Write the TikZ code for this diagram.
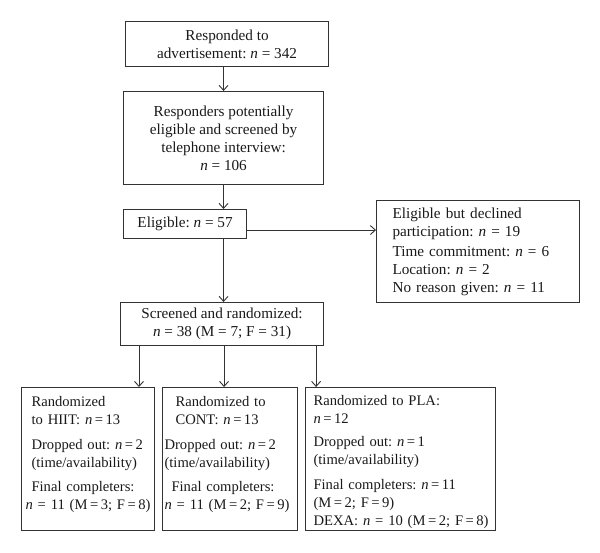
\documentclass[tikz,border=0pt]{standalone}
\usepackage{fontspec}
\setmainfont{Liberation Serif}
\usetikzlibrary{arrows.meta}

\newcommand{\nval}{\textit{n}}
\newcommand{\teq}{\hspace{.17em}=\hspace{.17em}}

\tikzset{
  box/.style={draw=black!80, line width=1.1pt, text=black!90, inner sep=2pt,
    font=\fontsize{15.2}{18}\selectfont\frenchspacing, anchor=north west},
  groupbox/.style={box, align=left, minimum height=143pt, inner ysep=0pt,
    font=\fontsize{14.6}{18}\selectfont\frenchspacing},
  flow/.style={draw=black!80, line width=0.9pt, -{Straight Barb[length=5pt,width=9pt]}}
}

\begin{document}
\begin{tikzpicture}[x=1pt,y=-1pt]
		\useasboundingbox (0,0) rectangle (600,552);

		\node[box, align=center, minimum width=203pt, minimum height=45pt] (respond) at (125,21)
			{Responded to\\advertisement: \nval{} = 342};
		\node[box, align=center, minimum width=200pt, minimum height=93pt] (screening) at (123,91)
			{Responders potentially\\eligible and screened by\\telephone interview:\\\nval{} = 106};
		\node[box, align=center, minimum width=123pt, minimum height=29pt] (eligible) at (123,209)
			{Eligible: \nval{} = 57};
		\node[box, align=left, minimum height=102pt, inner xsep=16pt, text width=171pt] (declined) at (376,200)
			{Eligible but declined\\participation: \nval{} = 19\\[2pt]Time commitment: \nval{} = 6\\Location: \nval{} = 2\\No reason given: \nval{} = 11};
		\node[box, align=center, minimum width=203pt, minimum height=43pt] (randomized) at (120,302)
			{Screened and randomized:\\\nval{} = 38 (M = 7; F = 31)};

		\node[groupbox, inner xsep=10pt, text width=113pt] (hiit) at (21,387)
			{Randomized\\to HIIT: \nval\teq13\\[7pt]\mbox{Dropped out: \nval\teq2}\\\mbox{(time/availability)}\\[6pt]\mbox{Final completers:}\\\mbox{\hspace*{-6pt}\nval{} = 11 (M\teq3; F\teq8)}\\[-6pt]\mbox{}};
		\node[groupbox, inner xsep=2pt, text width=131pt] (cont) at (162,387)
			{\hspace*{11pt}Randomized to\\\hspace*{11pt}CONT: \nval\teq13\\[7pt]\mbox{Dropped out: \nval\teq2}\\\mbox{(time/availability)}\\[6pt]\mbox{\hspace*{7pt}Final completers:}\\\mbox{\nval{} = 11 (M\teq2; F\teq9)}\\[-6pt]\mbox{}};
		\node[groupbox, inner xsep=8pt, text width=174pt] (pla) at (305,387)
			{Randomized to PLA:\\\nval\teq12\\[5pt]Dropped out: \nval\teq1\\(time/availability)\\[7pt]\mbox{Final completers: \nval\teq11}\\(M\teq2; F\teq9)\\\mbox{DEXA: \nval{} = 10 (M\teq2; F\teq8)}\\[-20pt]\mbox{}};

		% main column
		\draw[flow] (screening.north |- respond.south) -- (screening.north);
		\draw[flow] (screening.south) -- (screening.south |- eligible.north);
		\draw[flow] (screening.south |- eligible.south) -- (screening.south |- randomized.north);

		% side branch
		\coordinate (eligout) at ([yshift=-6pt]eligible.east);
		\draw[flow] (eligout) -- (eligout -| declined.west);

		% split into groups
		\coordinate (tohiit) at ([xshift=19pt]randomized.south west);
		\coordinate (tocont) at ([xshift=2pt]randomized.south);
		\coordinate (topla) at ([xshift=-8pt]randomized.south east);
		\draw[flow] (tohiit) -- (tohiit |- hiit.north);
		\draw[flow] (tocont) -- (tocont |- cont.north);
		\draw[flow] (topla) -- (topla |- pla.north);

\end{tikzpicture}
\end{document}
